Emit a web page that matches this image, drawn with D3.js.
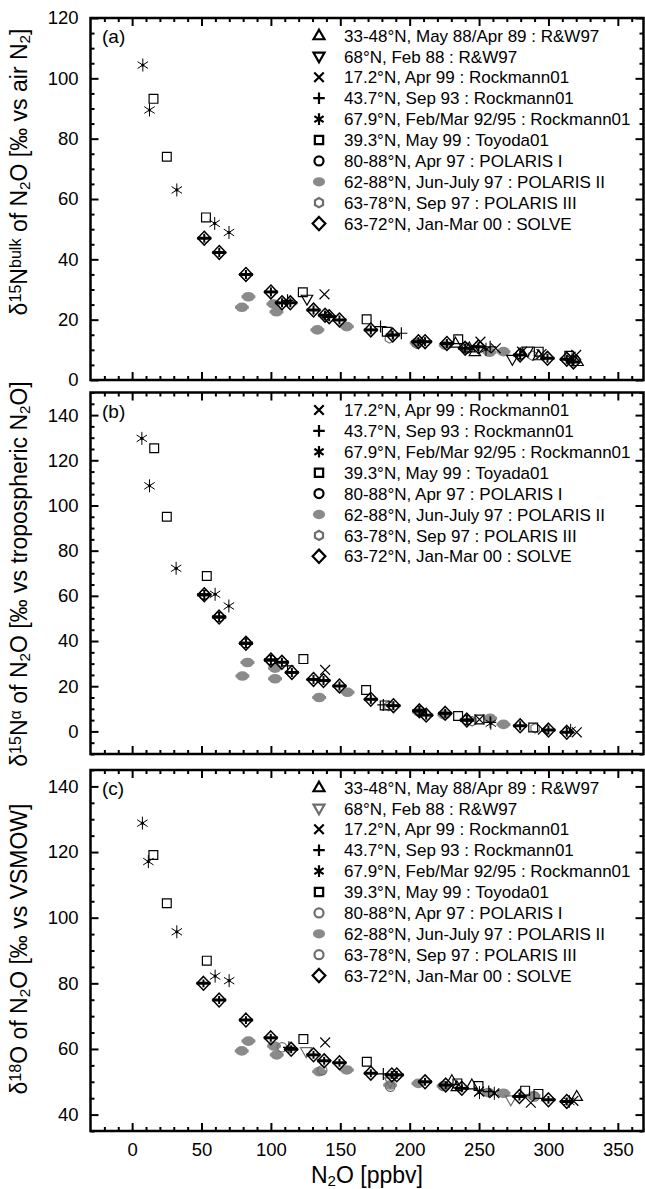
<!DOCTYPE html>
<html><head><meta charset="utf-8">
<script src="https://cdn.jsdelivr.net/npm/d3@7"></script>
<style>
body{margin:0;background:#fff}
svg{display:block}
text{font-family:"Liberation Sans",Arial,Helvetica,sans-serif;fill:#000}
</style>
</head><body><script>
// ---------------- DATA ----------------
const xTicks = [0,50,100,150,200,250,300,350];
const yTicksA = [0,20,40,60,80,100,120];
const yTicksB = [0,20,40,60,80,100,120,140];
const yTicksC = [40,60,80,100,120,140];

const legendA = ["33-48°N, May 88/Apr 89 : R&W97","68°N, Feb 88 : R&W97","17.2°N, Apr 99 : Rockmann01","43.7°N, Sep 93 : Rockmann01","67.9°N, Feb/Mar 92/95 : Rockmann01","39.3°N, May 99 : Toyoda01","80-88°N, Apr 97 : POLARIS I","62-88°N, Jun-July 97 : POLARIS II","63-78°N, Sep 97 : POLARIS III","63-72°N, Jan-Mar 00 : SOLVE"];
const legendB = ["17.2°N, Apr 99 : Rockmann01","43.7°N, Sep 93 : Rockmann01","67.9°N, Feb/Mar 92/95 : Rockmann01","39.3°N, May 99 : Toyada01","80-88°N, Apr 97 : POLARIS I","62-88°N, Jun-July 97 : POLARIS II","63-78°N, Sep 97 : POLARIS III","63-72°N, Jan-Mar 00 : SOLVE"];
const legendC = legendA.slice();

// Panel (a): delta15N bulk  [N2O ppbv, permil]
const a_triUp = [[233,12.2],[243,10.6],[247,9.4],[293,8.0],[321,6.1]];
const a_triDown = [[126,26.8],[274,6.9],[285,9.6]];
const a_cross = [[138.6,28.4],[251,12.7],[262,10.5],[281,9.4],[295,8.6],[316,7.7],[320,8.3]];
const a_plus = [[112,26.4],[179,17.7],[194,15.5],[258,11.0]];
const a_star = [[7.7,104.4],[12.5,89.5],[32.2,63.0],[59.5,51.9],[69.8,48.9],[255,10.2],[317,7.0]];
const a_square = [[15.4,93.2],[25,74.0],[53.2,53.9],[123,29.1],[169,20.1],[183.5,16.0],[235,13.5],[293,9.4],[315,8.0]];
const a_polI = [[241,10.4],[280,8.5]];
const a_polII = [[79.1,24.1],[83.8,27.6],[101.8,25.2],[104,22.6],[133.5,16.6],[154.7,17.7],[205,12.3],[226,11.5],[257.5,9.2],[267.6,9.4]];
const a_polIII = [[185.4,13.8],[205,12.0],[240,11.0],[288.7,8.0]];
const a_solve = [[52,47.0],[62.8,42.3],[82,35.0],[100,29.2],[108,25.6],[114,25.6],[130.7,23.2],[139,21.5],[142,21.0],[149.4,19.9],[172,16.6],[187.8,14.9],[206.3,12.7],[211.1,12.7],[226.8,12.1],[240,10.5],[249.6,11.0],[279.6,8.3],[299.3,7.2],[313.2,6.9],[318,6.0]];

// Panel (b): delta15N alpha
const b_cross = [[139.1,27.2],[250.3,5.3],[296,0.8],[320.4,-0.4]];
const b_plus = [[112,29.0],[181,11.7],[258,4.0]];
const b_star = [[7,129.7],[12.5,108.7],[31.7,72.2],[59.8,60.7],[69.7,55.5],[258.5,3.6],[316,0.5]];
const b_square = [[15.9,125.3],[25,95.0],[53.8,68.8],[123.4,32.0],[168.6,18.3],[182,11.5],[234.9,6.8],[250.3,5.3],[289,1.7]];
const b_polI = [[52,60.5],[62.7,50.6],[82,39.0],[100,31.6],[207,9.1],[241.2,5.0]];
const b_polII = [[79.5,24.5],[83.1,30.5],[103,28.0],[103,23.3],[134.8,15.0],[155.2,17.3],[207,8.5],[225,7.3],[258,5.8],[267.6,3.1]];
const b_polIII = [[185,11.2],[245,4.5],[290.4,1.4]];
const b_solve = [[52,60.5],[62.7,50.6],[82,39.0],[100,31.6],[107.9,30.6],[115.1,26.1],[130.7,23.0],[137.9,22.5],[149.4,20.1],[172,14.2],[188.3,11.4],[207,9.1],[211.9,7.2],[225.6,8.0],[241.2,5.0],[279.6,2.5],[300,0.6],[313.2,-0.4]];

// Panel (c): delta18O
const c_triUp = [[230.4,50.3],[234,48.5],[244.8,49.0],[320.4,45.5]];
const c_triDown = [[125.4,59.2],[186,50.0],[272.9,44.5]];
const c_cross = [[139.1,62.0],[250,47.0],[261,46.5],[287.3,43.6],[318,44.2]];
const c_plus = [[113,60.5],[181,52.4],[257,47.0]];
const c_star = [[7.4,128.8],[11.7,117.1],[32.2,95.7],[59.8,82.2],[69.9,80.8],[250.3,46.7],[261,46.5],[315,44.0]];
const c_square = [[15.3,119.1],[25,104.4],[53.8,86.9],[123.4,63.0],[169.1,56.1],[234.4,49.5],[249.6,48.7],[283.2,47.3],[292.8,46.3]];
const c_polI = [[137,53.5],[224.4,48.7]];
const c_polII = [[79,59.4],[83.8,62.4],[102.3,60.9],[104.2,58.2],[134.8,53.1],[154.7,53.6],[185.9,49.0],[206.3,49.5],[224.4,48.7],[256.8,46.7],[267.6,46.5],[289.2,45.7]];
const c_polIII = [[108,60.5],[186,48.5],[290,45.5]];
const c_solve = [[51.4,80.0],[62.7,74.9],[82,68.8],[99.9,63.4],[114.6,59.9],[130.7,58.2],[138.4,56.4],[149.4,55.8],[172,52.6],[187.1,52.1],[190.7,52.1],[211.1,50.0],[226,49.0],[237.6,48.0],[279.1,45.5],[300,44.5],[313.2,44.0]];

// error-bar half widths (ppbv / permil)
const solveXErr = 5, polIIXErr = 5;
const solveYErr = {a:1.5, b:2.0, c:1.2};

// ---------------- DRAWING ----------------
const W = 645, H = 1189;
const BLACK = "#000", GRAY = "#8a8a8a", DGRAY = "#6e6e6e";
const svg = d3.select("body").append("svg").attr("width", W).attr("height", H);
const x = d3.scaleLinear().domain([-30, 368.5]).range([90.5, 643.5]);

function markerPath(t, s) {
  switch (t) {
    case "triUp": return `M0,${-s}L${s*0.95},${s*0.65}L${-s*0.95},${s*0.65}Z`;
    case "triDown": return `M0,${s}L${s*0.95},${-s*0.65}L${-s*0.95},${-s*0.65}Z`;
    case "cross": { const k = s*0.82; return `M${-k},${-k}L${k},${k}M${-k},${k}L${k},${-k}`; }
    case "plus": return `M${-s},0L${s},0M0,${-s}L0,${s}`;
    case "star": { const k = s*0.8; return `M0,${-s}L0,${s}M${-k},${-k*0.65}L${k},${k*0.65}M${-k},${k*0.65}L${k},${-k*0.65}`; }
    case "square": { const k = s*0.8; return `M${-k},${-k}H${k}V${k}H${-k}Z`; }
    case "circle": { const r = s*0.78; return `M${r},0A${r},${r} 0 1 1 ${-r},0A${r},${r} 0 1 1 ${r},0Z`; }
    case "dot": { const rx = s*1.05, ry = s*0.8; return `M${rx},0A${rx},${ry} 0 1 1 ${-rx},0A${rx},${ry} 0 1 1 ${rx},0Z`; }
    case "hex": { const r = s*0.8; const p = d3.range(6).map(i => [r*Math.cos(Math.PI/6 + i*Math.PI/3), r*Math.sin(Math.PI/6 + i*Math.PI/3)]); return "M" + p.map(q => q.join(",")).join("L") + "Z"; }
    case "diamond": return `M0,${-s*1.15}L${s*1.1},0L0,${s*1.15}L${-s*1.1},0Z`;
  }
}

function drawSeries(g, y, s) {
  const gg = g.append("g");
  if (s.xerr) {
    gg.selectAll("line.xe").data(s.data).join("line").attr("class", "xe")
      .attr("x1", d => x(d[0] - s.xerr)).attr("x2", d => x(d[0] + s.xerr))
      .attr("y1", d => y(d[1])).attr("y2", d => y(d[1]))
      .attr("stroke", s.type === "dot" ? GRAY : BLACK).attr("stroke-width", 3);
  }
  if (s.yerr) {
    gg.selectAll("line.ye").data(s.data).join("line").attr("class", "ye")
      .attr("x1", d => x(d[0])).attr("x2", d => x(d[0]))
      .attr("y1", d => y(d[1] - s.yerr)).attr("y2", d => y(d[1] + s.yerr))
      .attr("stroke", BLACK).attr("stroke-width", 2);
  }
  const filled = s.type === "dot";
  gg.selectAll("path.m").data(s.data).join("path").attr("class", "m")
    .attr("transform", d => `translate(${x(d[0])},${y(d[1])})`)
    .attr("d", markerPath(s.type, s.size || 6))
    .attr("fill", filled ? GRAY : "none")
    .attr("stroke", filled ? "none" : s.color)
    .attr("stroke-width", s.sw || 1.2);
  if (s.type === "star") {
    gg.selectAll("circle.c").data(s.data).join("circle").attr("class", "c")
      .attr("cx", d => x(d[0])).attr("cy", d => y(d[1])).attr("r", 1.6).attr("fill", BLACK);
  }
}

function addRich(g, parts, attrs) {
  const t = g.append("text");
  Object.entries(attrs).forEach(([k, v]) => t.attr(k, v));
  parts.forEach(([txt, kind]) => {
    const ts = t.append("tspan").text(txt);
    if (kind === "sup") ts.attr("baseline-shift", "40%").attr("font-size", "70%");
    if (kind === "sub") ts.attr("baseline-shift", "-22%").attr("font-size", "66%");
  });
  return t;
}

const panels = [
  { key: "a", top: 18, bottom: 380, dom: [0, 120], yt: yTicksA, label: "(a)", tcy: 172,
    title: [["δ","n"],["15","sup"],["N","n"],["bulk","sup"],[" of N","n"],["2","sub"],["O [‰ vs air N","n"],["2","sub"],["]","n"]],
    legend: legendA,
    legendSyms: [["triUp",BLACK],["triDown",BLACK],["cross",BLACK],["plus",BLACK],["star",BLACK],["square",BLACK],["circle",BLACK],["dot",GRAY],["hex",DGRAY],["diamond",BLACK]],
    series: [
      {type:"dot", data:a_polII, color:GRAY, xerr:polIIXErr},
      {type:"hex", data:a_polIII, color:DGRAY},
      {type:"circle", data:a_polI, color:BLACK},
      {type:"triUp", data:a_triUp, color:BLACK},
      {type:"triDown", data:a_triDown, color:BLACK},
      {type:"cross", data:a_cross, color:BLACK},
      {type:"plus", data:a_plus, color:BLACK},
      {type:"star", data:a_star, color:BLACK, size:6.5, sw:1},
      {type:"square", data:a_square, color:BLACK, size:5.5},
      {type:"diamond", data:a_solve, color:BLACK, xerr:solveXErr, yerr:solveYErr.a, sw:1.5},
    ] },
  { key: "b", top: 392.5, bottom: 754, dom: [-10, 150], yt: yTicksB, label: "(b)", tcy: 574,
    title: [["δ","n"],["15","sup"],["N","n"],["α","sup"],[" of N","n"],["2","sub"],["O [‰ vs tropospheric N","n"],["2","sub"],["O]","n"]],
    legend: legendB,
    legendSyms: [["cross",BLACK],["plus",BLACK],["star",BLACK],["square",BLACK],["circle",BLACK],["dot",GRAY],["hex",DGRAY],["diamond",BLACK]],
    series: [
      {type:"dot", data:b_polII, color:GRAY, xerr:polIIXErr},
      {type:"hex", data:b_polIII, color:DGRAY},
      {type:"circle", data:b_polI, color:BLACK, xerr:solveXErr},
      {type:"cross", data:b_cross, color:BLACK},
      {type:"plus", data:b_plus, color:BLACK},
      {type:"star", data:b_star, color:BLACK, size:6.5, sw:1},
      {type:"square", data:b_square, color:BLACK, size:5.5},
      {type:"diamond", data:b_solve, color:BLACK, xerr:solveXErr, yerr:solveYErr.b, sw:1.5},
    ] },
  { key: "c", top: 770, bottom: 1131, dom: [35, 145], yt: yTicksC, label: "(c)", tcy: 949,
    title: [["δ","n"],["18","sup"],["O of N","n"],["2","sub"],["O [‰ vs VSMOW]","n"]],
    legend: legendC,
    legendSyms: [["triUp",BLACK],["triDown",DGRAY],["cross",BLACK],["plus",BLACK],["star",BLACK],["square",BLACK],["circle",DGRAY],["dot",GRAY],["circle",DGRAY],["diamond",BLACK]],
    series: [
      {type:"dot", data:c_polII, color:GRAY, xerr:polIIXErr},
      {type:"circle", data:c_polIII, color:DGRAY},
      {type:"circle", data:c_polI, color:DGRAY},
      {type:"triUp", data:c_triUp, color:BLACK},
      {type:"triDown", data:c_triDown, color:DGRAY},
      {type:"cross", data:c_cross, color:BLACK},
      {type:"plus", data:c_plus, color:BLACK},
      {type:"star", data:c_star, color:BLACK, size:6.5, sw:1},
      {type:"square", data:c_square, color:BLACK, size:5.5},
      {type:"diamond", data:c_solve, color:BLACK, xerr:solveXErr, yerr:solveYErr.c, sw:1.5},
    ] },
];

const x0 = x.range()[0], x1 = x.range()[1];
const minorX = d3.range(-20, 370, 10).filter(v => v % 50 !== 0);

panels.forEach((p, pi) => {
  const y = d3.scaleLinear().domain(p.dom).range([p.bottom, p.top]);
  const g = svg.append("g");
  const minorY = d3.range(Math.ceil(p.dom[0] / 5) * 5, p.dom[1] + 0.01, 5).filter(v => !p.yt.includes(v));
  const last = pi === panels.length - 1;

  // data
  const clip = "clip" + p.key;
  svg.append("clipPath").attr("id", clip).append("rect")
    .attr("x", x0).attr("y", p.top).attr("width", x1 - x0).attr("height", p.bottom - p.top);
  const dg = g.append("g").attr("clip-path", `url(#${clip})`);
  p.series.forEach(s => drawSeries(dg, y, s));

  // axes (ticks inward)
  const tickStyle = sel => { sel.select(".domain").remove(); sel.selectAll(".tick line").attr("stroke", BLACK).attr("stroke-width", 2); };
  const lblStyle = s => s.selectAll("text").attr("font-size", 18.5).attr("fill", BLACK).attr("font-family", '"Liberation Sans",Arial,sans-serif');
  g.append("g").attr("transform", `translate(0,${p.bottom})`)
    .call(d3.axisBottom(x).tickValues(xTicks).tickSize(-8).tickPadding(12).tickFormat(last ? d3.format("d") : () => ""))
    .call(tickStyle).call(lblStyle);
  g.append("g").attr("transform", `translate(0,${p.bottom})`)
    .call(d3.axisBottom(x).tickValues(minorX).tickSize(-4).tickFormat(() => "")).call(tickStyle);
  g.append("g").attr("transform", `translate(0,${p.top})`)
    .call(d3.axisTop(x).tickValues(xTicks).tickSize(-8).tickFormat(() => "")).call(tickStyle);
  g.append("g").attr("transform", `translate(0,${p.top})`)
    .call(d3.axisTop(x).tickValues(minorX).tickSize(-4).tickFormat(() => "")).call(tickStyle);
  g.append("g").attr("transform", `translate(${x0},0)`)
    .call(d3.axisLeft(y).tickValues(p.yt).tickSize(-8).tickPadding(12).tickFormat(d3.format("d")))
    .call(tickStyle).call(lblStyle);
  g.append("g").attr("transform", `translate(${x0},0)`)
    .call(d3.axisLeft(y).tickValues(minorY).tickSize(-4).tickFormat(() => "")).call(tickStyle);
  g.append("g").attr("transform", `translate(${x1},0)`)
    .call(d3.axisRight(y).tickValues(p.yt).tickSize(-8).tickFormat(() => "")).call(tickStyle);
  g.append("g").attr("transform", `translate(${x1},0)`)
    .call(d3.axisRight(y).tickValues(minorY).tickSize(-4).tickFormat(() => "")).call(tickStyle);
  g.append("rect").attr("x", x0).attr("y", p.top).attr("width", x1 - x0).attr("height", p.bottom - p.top)
    .attr("fill", "none").attr("stroke", BLACK).attr("stroke-width", 2.5);

  // panel label
  g.append("text").attr("x", 102).attr("y", p.top + 25).attr("font-size", 19).text(p.label);

  // legend
  const lg = g.append("g");
  p.legend.forEach((lab, i) => {
    const cy = p.top + 17.5 + i * 20.9;
    const [t, col] = p.legendSyms[i];
    lg.append("path").attr("transform", `translate(319,${cy})`).attr("d", markerPath(t, t === "square" ? 5.2 : 5.8))
      .attr("fill", t === "dot" ? col : "none").attr("stroke", t === "dot" ? "none" : col).attr("stroke-width", 2.2);
    lg.append("text").attr("x", 344).attr("y", cy).attr("dy", "0.36em").attr("font-size", 17).text(lab);
  });

  // y title
  addRich(g, p.title, { transform: `translate(27,${p.tcy}) rotate(-90)`, "text-anchor": "middle", "font-size": 23 });
});

// x title
addRich(svg, [["N","n"],["2","sub"],["O [ppbv]","n"]], { x: 367, y: 1183, "text-anchor": "middle", "font-size": 23 });
</script></body></html>
